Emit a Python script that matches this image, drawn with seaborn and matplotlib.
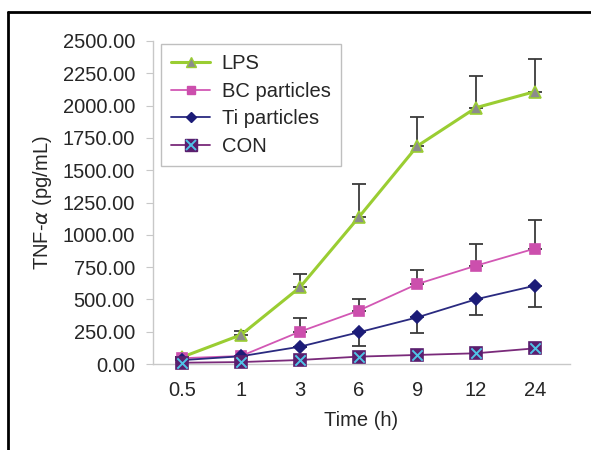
import matplotlib
matplotlib.use("Agg")
import matplotlib.pyplot as plt
import seaborn as sns
import pandas as pd
from matplotlib.lines import Line2D

sns.set_style("white")
plt.rcParams['font.family'] = ['Liberation Sans', 'DejaVu Sans']

times = ["0.5", "1", "3", "6", "9", "12", "24"]
lps = [54, 226, 593, 1134, 1687, 1984, 2108]
lps_err = [0, 26, 101, 261, 222, 247, 253]
bc = [45, 62, 250, 413, 619, 761, 893]
bc_err = [0, 0, 104, 88, 109, 170, 222]
ti = [30, 60, 134, 245, 361, 501, 606]
ti_err = [0, 0, 0, 103, 124, 122, 162]
con = [10, 15, 31, 57, 70, 83, 121]

series = ["LPS", "BC particles", "Ti particles", "CON"]
pos = list(range(len(times)))

df = pd.DataFrame({
    "pos": pos * 4,
    "value": lps + bc + ti + con,
    "group": [s for s in series for _ in times],
})

FS = 14.5

fig = plt.figure(figsize=(5.91, 4.5), dpi=100)
ax = fig.add_axes([153/591, 1-364/450, 417/591, 323/450])

styles = {
    "LPS": dict(color="#9acd32", marker="^", mfc="#8c8c8c", mec="#9acd32", ms=8, lw=2.2),
    "BC particles": dict(color="#d257b4", marker="s", mfc="#cc4fad", mec="#cc4fad", ms=7, lw=1.3),
    "Ti particles": dict(color="#2a2a80", marker="D", mfc="#1c1c78", mec="#1c1c78", ms=6, lw=1.3),
    "CON": dict(color="#7a2a7a", marker="s", mfc="#5a1e6e", mec="#5a1e6e", ms=9, lw=1.3),
}

ekw = dict(fmt="none", ecolor="#3a3a3a", elinewidth=1.3, capsize=5, capthick=1.3, zorder=1)
ax.errorbar(pos, lps, yerr=[[0]*7, lps_err], **ekw)
ax.errorbar(pos, bc, yerr=[[0]*7, bc_err], **ekw)
ax.errorbar(pos, ti, yerr=[ti_err, [0]*7], **ekw)

for name in series:
    st = styles[name]
    sub = df[df.group == name]
    sns.lineplot(data=sub, x="pos", y="value", ax=ax, color=st["color"], lw=st["lw"],
                 marker=st["marker"], markersize=st["ms"], markerfacecolor=st["mfc"],
                 markeredgecolor=st["mec"], markeredgewidth=1.2, legend=False, zorder=3,
                 clip_on=False)

ax.scatter(pos, con, marker="x", s=55, color="#4fc3e6", linewidths=1.4, zorder=5, clip_on=False)

ax.set_xlim(-0.5, 6.6)
ax.set_ylim(0, 2500)
ax.set_xticks(pos)
ax.set_xticklabels(times)
ax.set_yticks(range(0, 2501, 250))
ax.set_yticklabels([f"{v:.2f}" for v in range(0, 2501, 250)])
for s in ["top", "right"]:
    ax.spines[s].set_visible(False)
for s in ["left", "bottom"]:
    ax.spines[s].set_color("#c8c8c8")
    ax.spines[s].set_linewidth(1.0)
ax.tick_params(axis="y", length=5, color="#c8c8c8", labelsize=FS, pad=8, left=True)
ax.tick_params(axis="x", length=0, labelsize=FS, pad=12)
ax.set_xlabel("Time (h)", fontsize=FS, labelpad=8)
ax.set_ylabel(r"TNF-$\alpha$ (pg/mL)", fontsize=FS, labelpad=6)

handles = []
for name in series:
    st = styles[name]
    handles.append(Line2D([], [], color=st["color"], lw=st["lw"], marker=st["marker"],
                          ms=st["ms"]*0.9, mfc=st["mfc"], mec=st["mec"]))
handles[3] = (handles[3], Line2D([], [], ls="none", marker="x", ms=7, color="#4fc3e6", mew=1.4))
leg = ax.legend(handles, series, loc="upper left", bbox_to_anchor=(0.02, 0.99),
                fontsize=FS, frameon=True, fancybox=False, handlelength=1.9,
                borderpad=0.5, labelspacing=0.42, handletextpad=0.6, borderaxespad=0)
leg.get_frame().set_edgecolor("#b0b0b0")
leg.get_frame().set_linewidth(1.0)

fig.add_artist(Line2D([8/591, 8/591], [0, 1-12/450], color="black", lw=2, transform=fig.transFigure))
fig.add_artist(Line2D([8/591, 1], [1-12/450, 1-12/450], color="black", lw=2, transform=fig.transFigure))

fig.savefig("out.png", dpi=100)
